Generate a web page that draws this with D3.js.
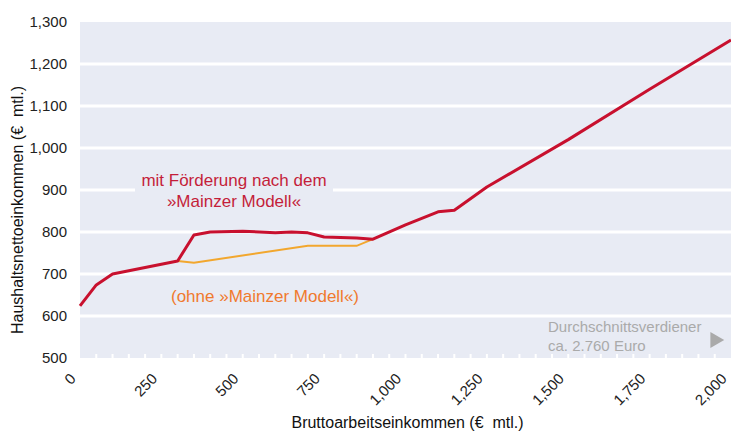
<!DOCTYPE html>
<html>
<head>
<meta charset="utf-8">
<script src="https://cdn.jsdelivr.net/npm/d3@7"></script>
<style>
  body { margin: 0; background: #fff; }
  svg { display: block; font-family: "Liberation Sans", Arial, sans-serif; }
</style>
</head>
<body>
<div id="chart"></div>
<script>
// Data
const grossIncome = [0, 50, 100, 300, 350, 400, 500, 600, 650, 700, 750, 850, 900, 1000, 1100, 1150, 1250, 1500, 1750, 2000];
const netWithModel = [624, 674, 700, 731, 793, 800, 802, 798, 800, 798, 788, 786, 783, 817, 848, 852, 907, 1020, 1140, 1257];
const grossWithout = [300, 350, 700, 850, 900];
const netWithout = [731, 727, 767, 767, 783];
const yTicks = [500, 600, 700, 800, 900, 1000, 1100, 1200, 1300];
const xTicks = [0, 250, 500, 750, 1000, 1250, 1500, 1750, 2000];
const minorTicks = d3.range(50, 2000, 50);

const withModel = grossIncome.map((g, i) => ({ x: g, y: netWithModel[i] }));
const without = grossWithout.map((g, i) => ({ x: g, y: netWithout[i] }));

// Dimensions
const width = 731, height = 432;
const plot = { left: 80, right: 731, top: 22, bottom: 358 };

const svg = d3.select("#chart").append("svg")
  .attr("width", width)
  .attr("height", height);

// Scales
const xScale = d3.scaleLinear().domain([0, 2000]).range([plot.left, plot.right]);
const yScale = d3.scaleLinear().domain([500, 1300]).range([plot.bottom, plot.top]);

const bg = "#e8ebf4";

// Plot background
svg.append("rect")
  .attr("x", plot.left).attr("y", plot.top)
  .attr("width", plot.right - plot.left)
  .attr("height", plot.bottom - plot.top)
  .attr("fill", bg);

// Gridlines
svg.append("g")
  .selectAll("line")
  .data(yTicks.slice(1, -1))
  .join("line")
  .attr("x1", plot.left).attr("x2", plot.right)
  .attr("y1", d => yScale(d)).attr("y2", d => yScale(d))
  .attr("stroke", "#fff")
  .attr("stroke-width", 3);

// Small white ticks on the bottom edge
svg.append("g")
  .selectAll("line")
  .data(minorTicks)
  .join("line")
  .attr("x1", d => xScale(d)).attr("x2", d => xScale(d))
  .attr("y1", plot.bottom - 4).attr("y2", plot.bottom)
  .attr("stroke", "#fff")
  .attr("stroke-width", 2);

// Y axis
const yAxis = d3.axisLeft(yScale).tickValues(yTicks).tickSize(0).tickPadding(13)
  .tickFormat(d3.format(","));
svg.append("g")
  .attr("transform", `translate(${plot.left},0)`)
  .call(yAxis)
  .call(g => g.select(".domain").remove())
  .selectAll("text")
  .attr("font-size", 15)
  .attr("font-family", "Liberation Sans, Arial, sans-serif")
  .attr("fill", "#222");

// X axis labels (rotated)
svg.append("g")
  .selectAll("text")
  .data(xTicks)
  .join("text")
  .attr("transform", d => `translate(${xScale(d) - 7},${plot.bottom + 18}) rotate(-45)`)
  .attr("text-anchor", "end")
  .attr("dy", "0.35em")
  .attr("font-size", 15)
  .attr("fill", "#222")
  .text(d => d3.format(",")(d));

// Axis titles
svg.append("text")
  .attr("transform", `translate(23,${(plot.top + plot.bottom) / 2 + 20}) rotate(-90)`)
  .attr("text-anchor", "middle")
  .attr("font-size", 16)
  .attr("fill", "#111")
  .attr("xml:space", "preserve")
  .text("Haushaltsnettoeinkommen (€  mtl.)");

svg.append("text")
  .attr("x", (plot.left + plot.right) / 2 + 2)
  .attr("y", 428)
  .attr("text-anchor", "middle")
  .attr("font-size", 16)
  .attr("fill", "#111")
  .attr("xml:space", "preserve")
  .text("Bruttoarbeitseinkommen (€  mtl.)");

// Lines
const line = d3.line().x(d => xScale(d.x)).y(d => yScale(d.y));

svg.append("path")
  .datum(without)
  .attr("d", line)
  .attr("fill", "none")
  .attr("stroke", "#f2a72e")
  .attr("stroke-width", 2);

svg.append("path")
  .datum(withModel)
  .attr("d", line)
  .attr("fill", "none")
  .attr("stroke", "#c8102e")
  .attr("stroke-width", 3)
  .attr("stroke-linejoin", "round");

// Label: mit Förderung
const redLabel = svg.append("g");
redLabel.append("rect")
  .attr("x", 135).attr("y", 168)
  .attr("width", 198).attr("height", 24)
  .attr("fill", bg);
redLabel.selectAll("text")
  .data(["mit Förderung nach dem", "»Mainzer Modell«"])
  .join("text")
  .attr("x", 234)
  .attr("y", (d, i) => 186 + i * 21)
  .attr("text-anchor", "middle")
  .attr("font-size", 17)
  .attr("fill", "#c41e3a")
  .text(d => d);

svg.append("text")
  .attr("x", 265)
  .attr("y", 302)
  .attr("text-anchor", "middle")
  .attr("font-size", 17)
  .attr("fill", "#f07a2e")
  .text("(ohne »Mainzer Modell«)");

// Average earner annotation
svg.append("g")
  .selectAll("text")
  .data(["Durchschnittsverdiener", "ca. 2.760 Euro"])
  .join("text")
  .attr("x", 548)
  .attr("y", (d, i) => 332 + i * 19)
  .attr("font-size", 15)
  .attr("fill", "#aaaaaa")
  .text(d => d);

svg.append("path")
  .attr("d", d3.symbol(d3.symbolTriangle, 110)())
  .attr("transform", "translate(715,340) rotate(90)")
  .attr("fill", "#aaaaaa");
</script>
</body>
</html>
